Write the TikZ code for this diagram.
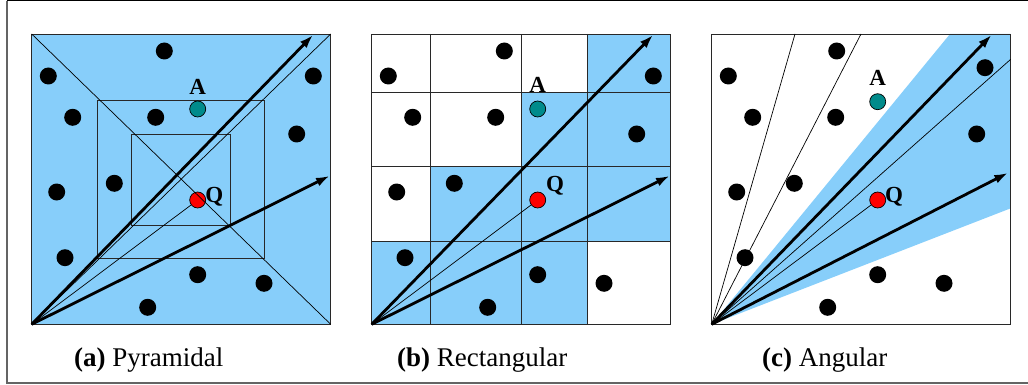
\documentclass[tikz,border=0pt]{standalone}
\usepackage{fontspec}
\setmainfont{Liberation Serif}
\usetikzlibrary{arrows.meta}
\definecolor{skyfill}{RGB}{135,206,250}
\definecolor{tealdot}{RGB}{0,139,139}
\definecolor{framegray}{RGB}{100,100,100}
\definecolor{gridgray}{RGB}{40,40,40}
\begin{document}
\begin{tikzpicture}[x=1pt,y=-1pt,
  dot/.style={circle,fill=black,inner sep=0pt,minimum size=17pt},
  adot/.style={circle,fill=tealdot,draw=black,line width=0.7pt,inner sep=0pt,minimum size=16pt},
  qdot/.style={circle,fill=red,draw=black,line width=0.7pt,inner sep=0pt,minimum size=16pt},
  lbl/.style={font=\fontsize{23}{25}\selectfont\bfseries,inner sep=0pt},
  captext/.style={font=\fontsize{27}{30}\selectfont,anchor=base west,inner sep=0pt},
  thickarrow/.style={line width=2.8pt,-{Latex[length=14pt,width=9pt]}},
  thinline/.style={line width=0.7pt},
  gridline/.style={gridgray,line width=0.9pt}]
\useasboundingbox (0,0) rectangle (1028,385);
% frame
\draw[black,line width=1pt] (6.5,1) -- (1028,1);
\draw[framegray,line width=2pt] (6.5,1) -- (6.5,382.5) -- (1028,382.5);

% ---------- panel (a)
\coordinate (aO) at (31.7,324.3);
\coordinate (aTL) at (31.7,34);
\coordinate (aTR) at (330.7,34);
\coordinate (aBR) at (330.7,324.3);
\fill[skyfill] (aTL) rectangle (aBR);
\draw[gridline] (aTL) rectangle (aBR);
\draw[gridline] (97.7,100.7) rectangle (264,258.3);
\draw[gridline] (131.7,134) rectangle (230,225.3);

% ---------- panel (b)
\coordinate (bO) at (371.7,324.3);
\fill[skyfill] (587.3,34) rectangle (670.7,92.3);
\fill[skyfill] (521,92.3) rectangle (670.7,166.7);
\fill[skyfill] (430,166.7) rectangle (670.7,241.7);
\fill[skyfill] (371.7,241.7) rectangle (587.3,324.3);
\draw[gridline] (371.7,34) rectangle (670.7,324.3);
\foreach \gx in {430,521,587.3} \draw[gridline] (\gx,34) -- (\gx,324.3);
\foreach \gy in {92.3,166.7,241.7} \draw[gridline] (371.7,\gy) -- (670.7,\gy);

% ---------- panel (c)
\coordinate (cO) at (711.7,324.3);
\fill[skyfill] (cO) -- (950,34) -- (1010.7,34) -- (1010.7,208.3) -- cycle;
\draw[gridline] (711.7,34) rectangle (1010.7,324.3);
\draw[thinline] (cO) -- (795,34);
\draw[thinline] (cO) -- (861,34);
\draw[thinline] (cO) -- (1010.7,59.3);

% dots
\foreach \p/\off in {a/0,b/340}{
  \foreach \n/\x/\y in {1/164.3/51,2/48.3/76,3/313.3/76,4/72.7/117.3,5/155.7/117.3,6/296.7/134,
     7/114.3/183.3,8/56.7/192,9/65/257.7,10/197.7/274.7,11/264/283.3,12/147.7/307.3}
    \node[dot] (\p\n) at (\x+\off,\y) {};
}
\foreach \n/\x/\y in {1/156.7/51,2/48.3/76,3/305/67.7,4/72.7/117.3,5/155.7/117.3,6/296.7/134,
     7/114.3/183.3,8/56.7/192,9/65/257.7,10/197.7/274.7,11/264/283.3,12/147.7/307.3}
  \node[dot] (c\n) at (\x+680,\y) {};

\node[adot] (aA) at (197.7,109) {};
\node[qdot] (aQ) at (197.7,200) {};
\node[adot] (bA) at (537.7,109) {};
\node[qdot] (bQ) at (537.7,200) {};
\node[adot] (cA) at (877.7,101.7) {};
\node[qdot] (cQ) at (877.7,200) {};

% diagonals of (a), over the dots
\draw[thinline] (aTL) -- (aBR);
\draw[thinline] (aO) -- (aTR);

% rays
\draw[thinline] (aO) -- (aQ);
\draw[thinline] (bO) -- (bQ);
\draw[thinline] (cO) -- (cQ);
\coordinate (aT1) at (313.3,34.7);
\coordinate (aT2) at (330,175.7);
\coordinate (bT1) at (653.3,34.7);
\coordinate (bT2) at (670,175.7);
\coordinate (cT1) at (991.7,34.7);
\coordinate (cT2) at (1008.3,172.7);
\draw[thickarrow] (aO) -- (aT1);
\draw[thickarrow] (aO) -- (aT2);
\draw[thickarrow] (bO) -- (bT1);
\draw[thickarrow] (bO) -- (bT2);
\draw[thickarrow] (cO) -- (cT1);
\draw[thickarrow] (cO) -- (cT2);

% labels
\node[lbl] (aAl) at (197.7,86.7) {A};
\node[lbl] (aQl) at (214.3,196.7) {Q};
\node[lbl] (bAl) at (537.7,85) {A};
\node[lbl] (bQl) at (555,186) {Q};
\node[lbl] (cAl) at (877.7,78.3) {A};
\node[lbl] (cQl) at (894,196.7) {Q};

% captions
\node[captext] (capa) at (74,366.7) {\textbf{(a)} Pyramidal};
\node[captext] (capb) at (397,366.7) {\textbf{(b)} Rectangular};
\node[captext] (capc) at (762,366.7) {\textbf{(c)} Angular};
\end{tikzpicture}
\end{document}
